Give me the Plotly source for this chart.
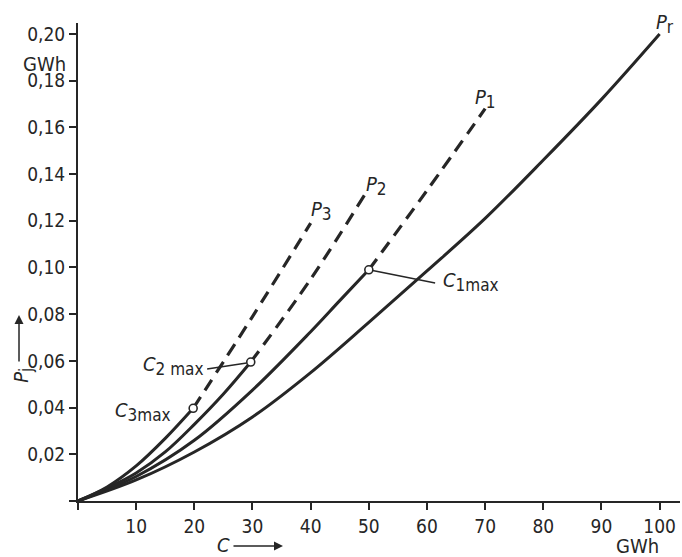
import plotly.graph_objects as go

# ---- data ----
pr_x = [0, 10, 20, 30, 40, 50, 60, 70, 80, 90, 100]
pr_y = [0, 0.009, 0.021, 0.036, 0.055, 0.0765, 0.0985, 0.121, 0.146, 0.172, 0.200]

p1_solid_x = [0, 10, 20, 30, 40, 45, 50]
p1_solid_y = [0, 0.0105, 0.026, 0.0475, 0.0725, 0.0858, 0.099]
p1_dash_x = [50, 60, 70]
p1_dash_y = [0.099, 0.133, 0.168]

p2_solid_x = [0, 5, 10, 15, 20, 25, 29.7]
p2_solid_y = [0, 0.0055, 0.012, 0.021, 0.0328, 0.0458, 0.0595]
p2_dash_x = [29.7, 40, 49.5]
p2_dash_y = [0.0595, 0.095, 0.132]

p3_solid_x = [0, 5, 10, 15, 19.8]
p3_solid_y = [0, 0.006, 0.015, 0.0268, 0.0397]
p3_dash_x = [19.8, 30, 40]
p3_dash_y = [0.0397, 0.079, 0.119]

cmax_x = [50, 29.7, 19.8]
cmax_y = [0.099, 0.0595, 0.0397]

x_ticks = [0, 10, 20, 30, 40, 50, 60, 70, 80, 90, 100]
x_ticktext = ["", "10", "20", "30", "40", "50", "60", "70", "80", "90", "100"]
y_ticks = [0, 0.02, 0.04, 0.06, 0.08, 0.10, 0.12, 0.14, 0.16, 0.18, 0.20]
y_ticktext = ["", "0,02", "0,04", "0,06", "0,08", "0,10", "0,12", "0,14", "0,16", "0,18", "0,20"]

INK = "#262626"
FONT = "DejaVu Sans Condensed"


def sub(main, s, italic=True):
    m = f"<i>{main}</i>" if italic else main
    return f"{m}<sub><span style='font-size:17px'>{s}</span></sub>"


fig = go.Figure()

solid = dict(color=INK, width=3, shape="spline", smoothing=1.0)
dashed = dict(color=INK, width=3.2, dash="13px,8px", shape="spline", smoothing=1.0)

for xs, ys in [(pr_x, pr_y), (p1_solid_x, p1_solid_y), (p2_solid_x, p2_solid_y), (p3_solid_x, p3_solid_y)]:
    fig.add_trace(go.Scatter(x=xs, y=ys, mode="lines", line=solid, hoverinfo="skip"))
for xs, ys in [(p1_dash_x, p1_dash_y), (p2_dash_x, p2_dash_y), (p3_dash_x, p3_dash_y)]:
    fig.add_trace(go.Scatter(x=xs, y=ys, mode="lines", line=dashed, hoverinfo="skip"))

# leader lines
fig.add_trace(go.Scatter(x=[50, 61.4], y=[0.099, 0.0934], mode="lines",
                         line=dict(color=INK, width=1.5), hoverinfo="skip"))
fig.add_trace(go.Scatter(x=[22.2, 29.0], y=[0.0565, 0.0591], mode="lines",
                         line=dict(color=INK, width=1.5), hoverinfo="skip"))

fig.add_trace(go.Scatter(x=cmax_x, y=cmax_y, mode="markers",
                         marker=dict(symbol="circle", size=8, color="white",
                                     line=dict(color=INK, width=1.6)),
                         hoverinfo="skip", cliponaxis=False))

ann_font = dict(family=FONT, size=20, color=INK)
annotations = [
    dict(x=70.0, y=0.1722, text=sub("P", "1")),
    dict(x=51.4, y=0.1353, text=sub("P", "2")),
    dict(x=41.8, y=0.1242, text=sub("P", "3")),
    dict(x=62.4, y=0.0942, text=sub("C", "1max"), xanchor="left"),
    dict(x=21.8, y=0.0582, text=sub("C", "2 max"), xanchor="right"),
    dict(x=16.4, y=0.0385, text=sub("C", "3max"), xanchor="right"),
]
for a in annotations:
    a.setdefault("xanchor", "center")
    fig.add_annotation(showarrow=False, font=ann_font, yanchor="middle", **a)

paper_ann = [
    dict(x=0.975, y=1.0, text=sub("P", "r")),
    dict(x=0.9286, y=-0.0941, text="GWh"),
    dict(x=0.2409, y=-0.092, text="<i>C</i>"),
    dict(x=-0.0166, y=0.915, text="GWh", xanchor="right"),
]
for a in paper_ann:
    a.setdefault("xanchor", "center")
    fig.add_annotation(xref="paper", yref="paper", showarrow=False, font=ann_font,
                       yanchor="middle", **a)

fig.add_annotation(xref="paper", yref="paper", x=-0.118, y=0.243, text=sub("P", "j"),
                   showarrow=False, textangle=-90, font=ann_font)
# arrows
fig.add_annotation(xref="paper", yref="paper", x=-0.098, y=0.389, text="", showarrow=True,
                   ax=0, ay=48, arrowhead=2, arrowsize=1.2, arrowwidth=1.5, arrowcolor=INK)
fig.add_annotation(xref="paper", yref="paper", x=0.3405, y=-0.0941, text="", showarrow=True,
                   ax=-51, ay=0, arrowhead=2, arrowsize=1.2, arrowwidth=1.5, arrowcolor=INK)

fig.update_layout(
    width=682, height=557,
    margin=dict(l=78, r=2, t=23, b=56, autoexpand=False),
    paper_bgcolor="white", plot_bgcolor="white",
    showlegend=False,
    font=dict(family=FONT, size=18, color=INK),
    xaxis=dict(range=[0, 103.5], tickvals=x_ticks, ticktext=x_ticktext, automargin=False,
               showgrid=False, zeroline=False, showline=True, linecolor=INK, linewidth=2,
               ticks="outside", ticklen=7, tickwidth=2, tickcolor=INK,
               tickfont=dict(family=FONT, size=19, color=INK)),
    yaxis=dict(range=[0, 0.2047], tickvals=y_ticks, ticktext=y_ticktext, automargin=False,
               showgrid=False, zeroline=False, showline=True, linecolor=INK, linewidth=2,
               ticks="outside", ticklen=7, tickwidth=2, tickcolor=INK,
               tickfont=dict(family=FONT, size=19, color=INK)),
)

fig.write_html(
    "out.html",
    config={"displayModeBar": False},
    post_script="document.body.style.margin='0';document.body.style.padding='0';"
                "document.documentElement.style.overflow='hidden';",
)
